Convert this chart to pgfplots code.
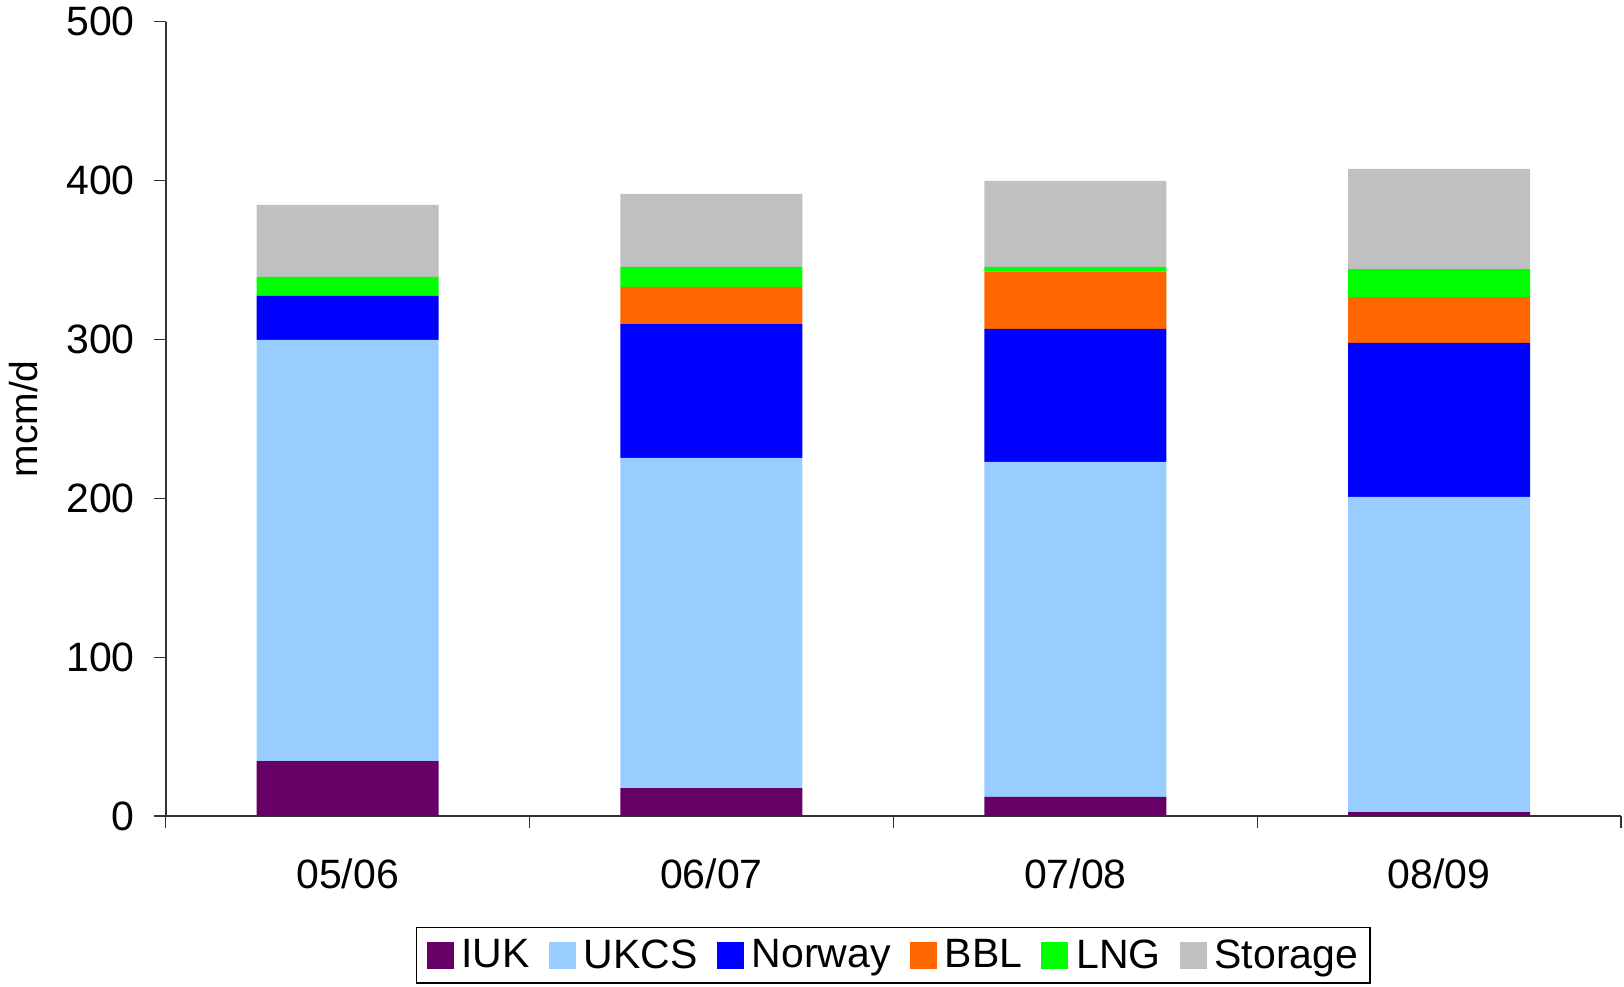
\documentclass[border=0pt]{standalone}
\usepackage{fontspec}
\setmainfont{Liberation Sans}
\usepackage{pgfplots}
\pgfplotsset{compat=1.18}

\definecolor{iuk}{HTML}{660066}
\definecolor{ukcs}{HTML}{99CCFF}
\definecolor{norway}{HTML}{0000FF}
\definecolor{bbl}{HTML}{FF6600}
\definecolor{lng}{HTML}{00FF00}
\definecolor{storage}{HTML}{C0C0C0}

\begin{document}
\begin{tikzpicture}
\path[use as bounding box] (-82.85bp,-85.4bp) rectangle (729.15bp,408.1bp);
\begin{axis}[
    scale only axis,
    width=727.7bp, height=397.3bp,
    at={(0,0)}, anchor=south west,
    ybar stacked,
    bar width=91bp,
    xmin=-0.5, xmax=3.5,
    ymin=0, ymax=500,
    axis x line*=bottom, axis y line*=left,
    axis line style={-, black!80, line width=1bp},
    tick align=outside,
    major tick length=6bp,
    tick style={black!80, line width=0.75bp},
    xtick={-0.5,0.5,1.5,2.5,3.5},
    xticklabels={},
    extra x ticks={0,1,2,3},
    extra x tick labels={05/06,06/07,07/08,08/09},
    extra x tick style={major tick length=0pt, tick label style={yshift=-18bp}},
    ytick={0,100,200,300,400,500},
    /pgf/number format/assume math mode=true,
    tick label style={font=\fontsize{20.5bp}{24bp}\selectfont},
    yticklabel style={xshift=-6bp},
    ylabel={mcm/d},
    ylabel style={at={(axis description cs:-0.0975,0.5)}, rotate=0, anchor=center, font=\fontsize{19.5bp}{23bp}\selectfont},
    legend columns=6,
    legend style={at={(0.5,-0.139)}, anchor=north, draw=black, line width=0.75bp,
        font=\fontsize{20.5bp}{24bp}\selectfont,
        inner xsep=5bp, inner ysep=5bp,
        nodes={inner sep=1bp},
        /tikz/every odd column/.append style={column sep=3bp},
        /tikz/every even column/.append style={column sep=8.5bp}},
    legend cell align=left,
    legend image code/.code={\fill[#1] (0bp,-6.75bp) rectangle (13.5bp,6.75bp);},
]
\addplot[fill=iuk, draw=none] coordinates {(0,34.7) (1,17.7) (2,12.1) (3,2.6)};
\addplot[fill=ukcs, draw=none] coordinates {(0,265.0) (1,207.7) (2,210.8) (3,198.3)};
\addplot[fill=norway, draw=none] coordinates {(0,27.7) (1,84.3) (2,83.7) (3,96.9)};
\addplot[fill=bbl, draw=none] coordinates {(0,0) (1,23.3) (2,36.1) (3,28.9)};
\addplot[fill=lng, draw=none] coordinates {(0,11.9) (1,12.6) (2,2.9) (3,17.6)};
\addplot[fill=storage, draw=none] coordinates {(0,45.3) (1,46.0) (2,54.1) (3,63.0)};
\legend{IUK,UKCS,Norway,BBL,LNG,Storage}
\end{axis}
\end{tikzpicture}
\end{document}
